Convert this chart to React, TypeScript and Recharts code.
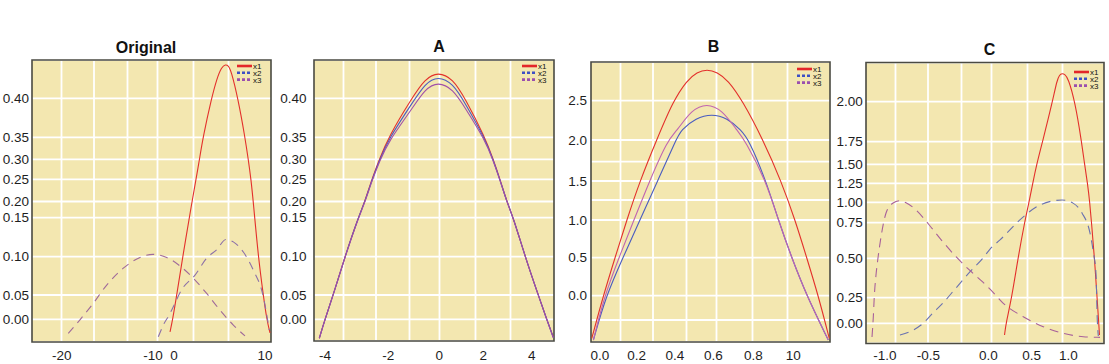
import React from 'react';
import { LineChart, Line, XAxis, YAxis, CartesianGrid, Legend, ReferenceArea } from 'recharts';

// ================= DATA =================
// Panel "Original"
const ORIG_X1_X = [-1.9, -0.62, 0.3, 0.96, 1.98, 2.42, 2.8, 3.19, 4.12, 4.73, 5.22, 5.66, 5.99, 6.26, 7.03, 7.8, 8.16, 8.46, 8.71, 9.26, 9.81, 10.19, 10.55];
const ORIG_X1_Y = [-0.026, 0, 0.05, 0.1, 0.2, 0.25, 0.3, 0.35, 0.4, 0.426, 0.4399, 0.4436, 0.4417, 0.436, 0.4, 0.35, 0.3, 0.25, 0.2, 0.1, 0.05, 0, -0.028];
const ORIG_X2_X = [-7.48, -5.1, -1.9, -0.33, 0.85, 2.31, 3.59, 4.69, 5.71, 6.52, 7.62, 8.7, 9.81, 10.47];
const ORIG_X2_Y = [-0.036, -0.012, 0.012, 0.026, 0.057, 0.076, 0.098, 0.109, 0.122, 0.119, 0.106, 0.083, 0.047, -0.022];
const ORIG_X3_X = [-19.28, -18.0, -16.54, -15.07, -13.25, -11.42, -10.0, -3.48, 0.85, 2.12, 3.59, 5.05, 6.52, 7.8];
const ORIG_X3_Y = [-0.029, -0.001, 0.033, 0.063, 0.085, 0.099, 0.103, 0.099, 0.086, 0.072, 0.052, 0.019, -0.012, -0.034];

// Panel "A"
const A_X = [-4.18, -4.0, -3.74, -3.37, -2.95, -2.74, -2.52, -2.28, -2.0, -1.08, -0.56, -0.05, 0.62, 1.17, 2.07, 2.41, 2.69, 2.97, 3.24, 3.73, 4.27, 4.62, 4.89];
const A_X1_Y = [-0.039, 0, 0.05, 0.1, 0.15, 0.2, 0.25, 0.3, 0.35, 0.4, 0.425, 0.434, 0.425, 0.4, 0.35, 0.3, 0.25, 0.2, 0.15, 0.1, 0.05, 0, -0.036];
const A_X2_Y = [-0.039, 0, 0.05, 0.1, 0.15, 0.199, 0.248, 0.297, 0.345, 0.393, 0.419, 0.4286, 0.419, 0.394, 0.347, 0.298, 0.249, 0.2, 0.15, 0.1, 0.05, 0, -0.037];
const A_X3_Y = [-0.039, 0, 0.05, 0.1, 0.149, 0.197, 0.246, 0.294, 0.34, 0.386, 0.412, 0.4213, 0.412, 0.388, 0.344, 0.296, 0.248, 0.199, 0.15, 0.1, 0.05, 0, -0.038];

// Panel "B"
const B_X1_X = [-0.045, 0.018, 0.082, 0.146, 0.217, 0.304, 0.391, 0.463, 0.515, 0.567, 0.619, 0.674, 0.746, 0.849, 0.939, 1.009, 1.067, 1.125, 1.18];
const B_X1_Y = [-0.44, 0, 0.5, 1.0, 1.5, 2.0, 2.5, 2.76, 2.865, 2.9, 2.865, 2.76, 2.5, 2.0, 1.5, 1.0, 0.5, 0, -0.44];
const B_X2_X = [-0.036, 0.033, 0.125, 0.217, 0.309, 0.405, 0.431, 0.51, 0.592, 0.6685, 0.7385, 0.7785, 0.864, 0.925, 0.992, 1.067, 1.175];
const B_X2_Y = [-0.456, 0, 0.5, 1.0, 1.5, 2.0, 2.127, 2.28, 2.331, 2.28, 2.127, 2.0, 1.5, 1.0, 0.5, 0, -0.456];
const B_X3_X = [-0.036, 0.0245, 0.1035, 0.185, 0.267, 0.361, 0.413, 0.486, 0.566, 0.644, 0.717, 0.758, 0.864, 0.925, 0.992, 1.067, 1.175];
const B_X3_Y = [-0.456, 0, 0.5, 1.0, 1.5, 2.0, 2.127, 2.382, 2.467, 2.382, 2.127, 2.0, 1.5, 1.0, 0.5, 0, -0.456];

// Panel "C"
const C_X1_X = [0.187, 0.204, 0.27, 0.342, 0.417, 0.469, 0.514, 0.568, 0.648, 0.784, 0.846, 0.88, 0.914, 0.955, 0.996, 1.092, 1.181, 1.222, 1.263, 1.293, 1.317, 1.358, 1.393, 1.416, 1.426];
const C_X1_Y = [-0.114, 0, 0.25, 0.5, 0.75, 1.0, 1.25, 1.5, 1.75, 2.0, 2.136, 2.167, 2.178, 2.17, 2.149, 2.0, 1.75, 1.5, 1.25, 1.0, 0.75, 0.5, 0.25, 0, -0.114];
const C_X2_X = [-0.827, -0.723, -0.584, -0.461, -0.378, -0.269, -0.161, -0.044, 0.02, 0.135, 0.4, 0.613, 0.914, 1.064, 1.187, 1.296, 1.344, 1.378, 1.396, 1.41];
const C_X2_Y = [-0.114, -0.085, -0.017, 0.101, 0.198, 0.312, 0.407, 0.502, 0.565, 0.629, 0.819, 0.967, 1.03, 0.99, 0.869, 0.678, 0.537, 0.407, 0.032, -0.124];
const C_X3_X = [-1.15, -1.135, -1.124, -1.104, -1.084, -1.046, -0.988, -0.911, -0.835, -0.758, -0.642, -0.492, -0.38, -0.269, -0.158, -0.047, 0.02, 0.173, 0.403, 0.658, 0.932, 1.205, 1.433];
const C_X3_Y = [-0.134, 0.062, 0.254, 0.394, 0.489, 0.65, 0.869, 0.988, 1.021, 0.995, 0.906, 0.734, 0.617, 0.511, 0.426, 0.35, 0.305, 0.195, 0.064, -0.033, -0.098, -0.131, -0.137];

// Tick values and labels
const ORIG_X_TICKS = [-20, -10, 0, 10];
const ORIG_X_LABELS = ['-20', '-10', '0', '10'];
const A_X_TICKS = [-4, -2, 0, 2, 4];
const A_X_LABELS = ['-4', '-2', '0', '2', '4'];
const B_X_TICKS = [0, 0.2, 0.4, 0.6, 0.8, 1.0];
const B_X_LABELS = ['0.0', '0.2', '0.4', '0.6', '0.8', '10'];
const C_X_TICKS = [-1, -0.5, 0, 0.5, 1];
const C_X_LABELS = ['-1.0', '-0.5', '0.0', '0.5', '1.0'];
const SMALL_Y_TICKS = [0, 0.05, 0.1, 0.15, 0.2, 0.25, 0.3, 0.35, 0.4];
const SMALL_Y_LABELS = ['0.00', '0.05', '0.10', '0.15', '0.20', '0.25', '0.30', '0.35', '0.40'];
const B_Y_TICKS = [-0.25, 0, 0.5, 1.0, 1.25, 1.5, 1.75, 2.0, 2.5];
const B_Y_LABELS = ['', '0.0', '0.5', '1.0', '', '1.5', '', '2.0', '2.5'];
const C_Y_TICKS = [0, 0.25, 0.5, 0.75, 1.0, 1.25, 1.5, 1.75, 2.0];
const C_Y_LABELS = ['0.00', '0.25', '0.50', '0.75', '1.00', '1.25', '1.50', '1.75', '2.00'];

const SERIES_NAMES = ['x1', 'x2', 'x3'];

// ================= STYLE / LAYOUT =================
const FONT = '"Liberation Sans", Arial, Helvetica, sans-serif';
const BG = '#F3E7B0';
const GRID = '#FFFFFF';
const BORDER = '#4a4a42';
const H = 364;
const YW = 44;
const RM = 6;
const TICK_FS = 13.5;
const GRID_X = [29.5, 62, 95.5, 125.5, 161.5, 196.5];

const LEGEND_STYLE: Record<string, { color: string; dash?: string }> = {
  x1: { color: '#e3262a' },
  x2: { color: '#3d4fc4', dash: '3 2' },
  x3: { color: '#9a4fae', dash: '3 2' },
};

function zip(xs: number[], ys: number[]) {
  return xs.map((x, i) => ({ x, y: ys[i] }));
}

// piecewise-linear scale through knots (value -> fraction of range)
function knotScale(values: number[], fracs: number[]): any {
  const n = values.length;
  const toFrac = (v: number) => {
    let i = 0;
    if (v >= values[n - 1]) i = n - 2;
    else while (i < n - 2 && v > values[i + 1]) i++;
    return fracs[i] + ((v - values[i]) * (fracs[i + 1] - fracs[i])) / (values[i + 1] - values[i]);
  };
  const fromFrac = (f: number) => {
    let i = 0;
    if (f >= fracs[n - 1]) i = n - 2;
    else while (i < n - 2 && f > fracs[i + 1]) i++;
    return values[i] + ((f - fracs[i]) * (values[i + 1] - values[i])) / (fracs[i + 1] - fracs[i]);
  };
  let dom: number[] = [fromFrac(0), fromFrac(1)];
  let rng: number[] = [0, 1];
  const s: any = (v: number) => rng[0] + toFrac(v) * (rng[rng.length - 1] - rng[0]);
  s.domain = (d?: number[]) => {
    if (d === undefined) return dom.slice();
    dom = d.slice();
    return s;
  };
  s.range = (r?: number[]) => {
    if (r === undefined) return rng.slice();
    rng = r.slice();
    return s;
  };
  s.invert = (p: number) => fromFrac((p - rng[0]) / (rng[rng.length - 1] - rng[0]));
  s.ticks = () => values.slice();
  s.nice = () => s;
  s.clamp = () => s;
  s.copy = () => {
    const c = knotScale(values, fracs);
    c.domain(dom);
    c.range(rng);
    return c;
  };
  return s;
}

type Curve = 'monotone' | 'basis';
type Box = { left: number; top: number; width: number; height: number };
type Series = { name: string; data: { x: number; y: number }[]; color: string; dash?: string; curve: Curve };
type PanelCfg = {
  title: string;
  titleX: number;
  titleY: number;
  box: Box;
  xTicks: number[];
  xLabels: string[];
  xPx: number[];
  yTicks: number[];
  yLabels: string[];
  yPx: number[];
  yGap: number;
  xGap: number;
  legendRight: number;
  legendRow1: number;
  series: Series[];
};

const ORIG_Y_PX = [319.3, 295, 256.7, 217.7, 201.5, 179.3, 159.3, 137.3, 98.3];

const PANELS: PanelCfg[] = [
  {
    title: 'Original',
    titleX: 146,
    titleY: 52.5,
    box: { left: 32, top: 60, width: 239, height: 282 },
    xTicks: ORIG_X_TICKS,
    xLabels: ORIG_X_LABELS,
    xPx: [61.7, 153, 174, 265],
    yTicks: SMALL_Y_TICKS,
    yLabels: SMALL_Y_LABELS,
    yPx: ORIG_Y_PX,
    yGap: 3,
    xGap: 8.4,
    legendRight: 34,
    legendRow1: 65.5,
    series: [
      { name: SERIES_NAMES[0], data: zip(ORIG_X1_X, ORIG_X1_Y), color: '#e3302b', curve: 'basis' },
      { name: SERIES_NAMES[1], data: zip(ORIG_X2_X, ORIG_X2_Y), color: '#8c70a8', dash: '8 6', curve: 'monotone' },
      { name: SERIES_NAMES[2], data: zip(ORIG_X3_X, ORIG_X3_Y), color: '#a06a9a', dash: '8 6', curve: 'monotone' },
    ],
  },
  {
    title: 'A',
    titleX: 439,
    titleY: 52,
    box: { left: 314, top: 60, width: 240, height: 281 },
    xTicks: A_X_TICKS,
    xLabels: A_X_LABELS,
    xPx: [325, 388.3, 439.3, 483.3, 531.7],
    yTicks: SMALL_Y_TICKS,
    yLabels: SMALL_Y_LABELS,
    yPx: ORIG_Y_PX,
    yGap: 7.5,
    xGap: 9.4,
    legendRight: 32.5,
    legendRow1: 65.5,
    series: [
      { name: SERIES_NAMES[0], data: zip(A_X, A_X1_Y), color: '#e3302b', curve: 'basis' },
      { name: SERIES_NAMES[1], data: zip(A_X, A_X2_Y), color: '#4b5bbf', curve: 'basis' },
      { name: SERIES_NAMES[2], data: zip(A_X, A_X3_Y), color: '#a050a8', curve: 'basis' },
    ],
  },
  {
    title: 'B',
    titleX: 713.5,
    titleY: 52,
    box: { left: 591, top: 62, width: 239, height: 280 },
    xTicks: B_X_TICKS,
    xLabels: B_X_LABELS,
    xPx: [600, 636.7, 675, 713.3, 753.3, 793.3],
    yTicks: B_Y_TICKS,
    yLabels: B_Y_LABELS,
    yPx: [320, 295.7, 257.7, 220, 200, 181, 161.7, 140, 100.7],
    yGap: 4,
    xGap: 8.4,
    legendRight: 33.5,
    legendRow1: 68.5,
    series: [
      { name: SERIES_NAMES[0], data: zip(B_X1_X, B_X1_Y), color: '#e3302b', curve: 'basis' },
      { name: SERIES_NAMES[1], data: zip(B_X2_X, B_X2_Y), color: '#4a5cc0', curve: 'basis' },
      { name: SERIES_NAMES[2], data: zip(B_X3_X, B_X3_Y), color: '#c064b0', curve: 'basis' },
    ],
  },
  {
    title: 'C',
    titleX: 989.5,
    titleY: 55,
    box: { left: 866, top: 62.5, width: 238, height: 281 },
    xTicks: C_X_TICKS,
    xLabels: C_X_LABELS,
    xPx: [885, 928.3, 988.3, 1031.7, 1068.3],
    yTicks: C_Y_TICKS,
    yLabels: C_Y_LABELS,
    yPx: [323.3, 297.7, 258.3, 222.7, 202.3, 183.3, 164.3, 141.7, 101.7],
    yGap: 3.3,
    xGap: 7,
    legendRight: 30,
    legendRow1: 72,
    series: [
      { name: SERIES_NAMES[0], data: zip(C_X1_X, C_X1_Y), color: '#e3302b', curve: 'basis' },
      { name: SERIES_NAMES[1], data: zip(C_X2_X, C_X2_Y), color: '#6a72b0', dash: '9 6', curve: 'monotone' },
      { name: SERIES_NAMES[2], data: zip(C_X3_X, C_X3_Y), color: '#a8609a', dash: '9 6', curve: 'monotone' },
    ],
  },
];

function LegendBox(props: any) {
  const items: any[] = props.payload ?? [];
  return (
    <svg width={36} height={22} style={{ display: 'block', overflow: 'visible' }}>
      {items.map((it, i) => {
        const st = LEGEND_STYLE[it.value] ?? { color: it.color };
        const y = 3 + i * 6.8;
        return (
          <g key={String(it.value)}>
            <line x1={0} x2={15} y1={y} y2={y} stroke={st.color} strokeWidth={2.6} strokeDasharray={st.dash} />
            <text x={16} y={y + 3} fontSize={8} fontFamily={FONT} fill="#111">
              {it.value}
            </text>
          </g>
        );
      })}
    </svg>
  );
}

function Panel({ cfg }: { cfg: PanelCfg }) {
  const { box } = cfg;
  const xFr = cfg.xPx.map((p) => (p - box.left) / box.width);
  const yFr = cfg.yPx.map((p) => (box.top + box.height - p) / box.height);
  const xs = knotScale(cfg.xTicks, xFr);
  const ys = knotScale(cfg.yTicks, yFr);
  const xDom: number[] = xs.domain();
  const yDom: number[] = ys.domain();
  const tickStyle = { fontSize: TICK_FS, fill: '#1e1e1e', fontFamily: FONT };
  const width = YW + box.width + RM;
  return (
    <div style={{ position: 'absolute', left: box.left - YW, top: 0 }}>
      <LineChart width={width} height={H} margin={{ top: box.top, right: RM, bottom: 0, left: 0 }}>
        <CartesianGrid
          fill={BG}
          fillOpacity={1}
          stroke={GRID}
          strokeWidth={1.8}
          verticalCoordinatesGenerator={(p: any) => GRID_X.map((g) => p.offset.left + g)}
        />
        <XAxis
          type="number"
          dataKey="x"
          scale={xs}
          domain={[xDom[0], xDom[1]]}
          allowDataOverflow
          ticks={cfg.xTicks}
          interval={0}
          tickFormatter={(v: number) => cfg.xLabels[cfg.xTicks.indexOf(v)] ?? ''}
          tickLine={false}
          axisLine={false}
          tickSize={0}
          tickMargin={cfg.xGap}
          height={H - box.top - box.height}
          tick={tickStyle}
        />
        <YAxis
          type="number"
          scale={ys}
          domain={[yDom[0], yDom[1]]}
          allowDataOverflow
          ticks={cfg.yTicks}
          interval={0}
          tickFormatter={(v: number) => cfg.yLabels[cfg.yTicks.indexOf(v)] ?? ''}
          tickLine={false}
          axisLine={false}
          tickSize={0}
          tickMargin={cfg.yGap}
          width={YW}
          tick={tickStyle}
        />
        <ReferenceArea
          x1={xDom[0]}
          x2={xDom[1]}
          y1={yDom[0]}
          y2={yDom[1]}
          fill="none"
          stroke={BORDER}
          strokeWidth={1.6}
          ifOverflow="visible"
        />
        {cfg.series.map((s) => (
          <Line
            key={s.name}
            name={s.name}
            data={s.data}
            dataKey="y"
            type={s.curve}
            stroke={s.color}
            strokeWidth={1.1}
            strokeDasharray={s.dash}
            dot={false}
            activeDot={false}
            isAnimationActive={false}
            legendType="line"
          />
        ))}
        <Legend
          layout="vertical"
          align="center"
          verticalAlign="middle"
          wrapperStyle={{
            left: YW + box.width - cfg.legendRight,
            top: cfg.legendRow1 - 3,
            width: 36,
            height: 22,
            lineHeight: 0,
          }}
          content={(p: any) => <LegendBox {...p} />}
        />
      </LineChart>
    </div>
  );
}

export default function App() {
  return (
    <div
      style={{
        position: 'absolute',
        left: 0,
        top: 0,
        width: 1109,
        height: 364,
        background: '#ffffff',
        overflow: 'hidden',
      }}
    >
      {PANELS.map((p) => (
        <Panel key={p.title} cfg={p} />
      ))}
      <svg
        width={1109}
        height={364}
        style={{ position: 'absolute', left: 0, top: 0, pointerEvents: 'none' }}
      >
        {PANELS.map((p) => (
          <text
            key={p.title}
            x={p.titleX}
            y={p.titleY}
            textAnchor="middle"
            fontSize={16}
            fontWeight="bold"
            fontFamily={FONT}
            fill="#111"
          >
            {p.title}
          </text>
        ))}
      </svg>
    </div>
  );
}
